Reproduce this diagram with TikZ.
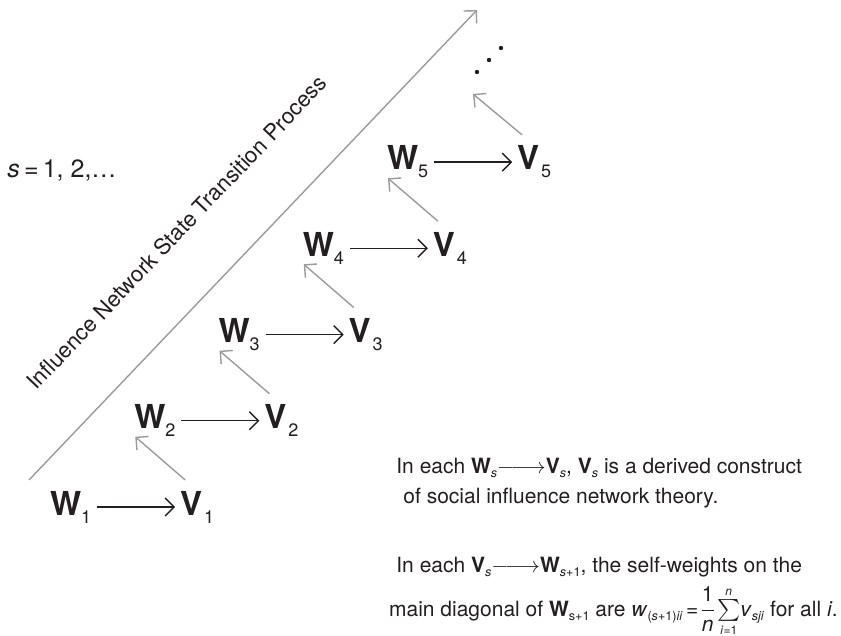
\documentclass[tikz,border=0pt]{standalone}
\usepackage{amsmath}
\usepackage{fontspec}
\setmainfont{TeX Gyre Heros}
\usetikzlibrary{arrows.meta,positioning,calc}
\definecolor{txtblack}{RGB}{35,31,32}
\definecolor{arrgray}{RGB}{155,155,155}

\newcommand{\matW}[1]{\textbf{W}\raisebox{-4pt}{\fontsize{9}{9}\selectfont #1}}
\newcommand{\matV}[1]{\textbf{V}\hspace{1pt}\raisebox{-4pt}{\fontsize{9}{9}\selectfont #1}}
\newcommand{\lto}{$\relbar\joinrel\relbar\joinrel\rightarrow$}
\newcommand{\sub}[1]{\raisebox{-2pt}{\fontsize{6.3}{6.3}\selectfont #1}}

\begin{document}
\begin{tikzpicture}[
  x=0.5pt, y=-0.5pt,
  matnode/.style={inner sep=0pt, outer sep=0pt, text=txtblack,
    font=\fontsize{16.5}{18}\selectfont},
  harr/.style={-{Straight Barb[length=4.5pt,width=9pt]}, line width=0.7pt,
    txtblack, shorten <=3pt, shorten >=2.5pt},
  garr/.style={-{Straight Barb[length=4.5pt,width=9pt]}, line width=0.7pt, arrgray},
  note/.style={anchor=base west, inner sep=0pt, text=txtblack,
    font=\fontsize{10.5}{12}\selectfont}
]
  \useasboundingbox (0,0) rectangle (841,636);

  % states W_s --> V_s
  \foreach \i in {1,...,5} {
    \node[matnode, anchor=base west] (W\i) at ({50+84.25*(\i-1)},{515-86.25*(\i-1)}) {\matW{\i}};
    \node[matnode, right=44.5pt of W\i] (V\i) {\matV{\i}};
    \draw[harr] (W\i) -- (V\i);
  }
  \foreach \i [evaluate=\i as \j using int(\i+1)] in {1,...,4}
    \draw[garr] ([shift={(2.5pt,5.5pt)}]V\i.north west) -- ([shift={(0.5pt,0pt)}]W\j.south west);

  % continuation
  \coordinate (more) at (489,60);
  \coordinate (moreend) at (473,94);
  \foreach \d in {-1,0,1}
    \fill[txtblack] ($(more)+(\d*12,-\d*12)$) circle (1.1pt);
  \draw[garr] ([shift={(2.5pt,5.5pt)}]V5.north west) -- (moreend);

  % process axis
  \coordinate (tstart) at (29,480);
  \coordinate (tend) at (477,10);
  \draw[garr] (tstart) -- (tend);
  \coordinate (tmid) at ($(tstart)!0.433!(tend)$);
  \node[rotate=46.37, anchor=base, inner sep=0pt, text=txtblack, font=\fontsize{11.1}{13}\selectfont]
    (tlabel) at ($(tmid)!28pt!90:(tend)$) {Influence Network State Transition Process};

  \node[anchor=base west, inner sep=0pt, text=txtblack, font=\fontsize{12.5}{15}\selectfont]
    (srange) at (7,178) {\textit{s}\,=\,1, 2,\ldots};

  % notes
  \node[note] (note1) at (396,473) {In each \textbf{W}\sub{\textit{s}}\lto\textbf{V}\sub{\textit{s}}, \textbf{V}\sub{\textit{s}} is a derived construct};
  \node[note] (note2) at (403,503) {of social influence network theory.};
  \node[note] (note3) at (396,572) {In each \textbf{V}\sub{\textit{s}}\lto\textbf{W}\sub{\textit{s}+1}, the self-weights on the};
  \node[note, anchor=base east] (note4) at (838,616) {main diagonal of \textbf{W}\sub{s+1} are
    \textit{w}\sub{(\textit{s}+1)\textit{ii}}\,=\,$\nulldelimiterspace=0pt\dfrac{\text{1}}{\textit{n}}\sum\limits_{\text{\fontsize{6}{6}\selectfont\textit{i}=1}}^{\text{\fontsize{6}{6}\selectfont\textit{n}}}$\textit{v}\sub{\textit{sji}} for all \textit{i}.};
\end{tikzpicture}
\end{document}
